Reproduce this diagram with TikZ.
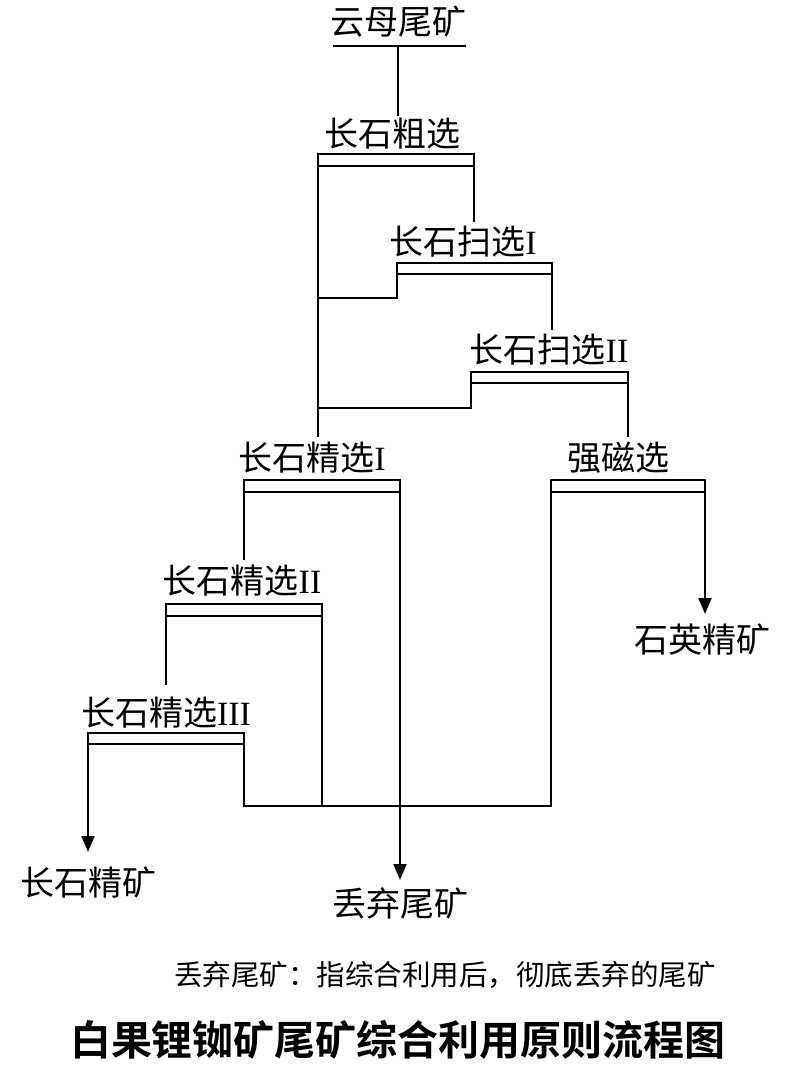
\documentclass[tikz,border=0pt]{standalone}
\usepackage{fontspec}
\usetikzlibrary{arrows.meta}
\newfontfamily\cjk{Noto Sans CJK SC}[BoldFont={Noto Sans CJK SC Bold}]
\newfontfamily\rom{Liberation Serif}
\begin{document}
\begin{tikzpicture}[x=1pt,y=-1pt,line width=2pt,
  lbl/.style={font=\cjk\fontsize{34}{34}\selectfont,inner sep=0pt},
  bar/.style={draw,line width=2pt},
  arr/.style={-{Triangle[length=16pt,width=13pt]}}]
\useasboundingbox (0,0) rectangle (799,1069);
\newcommand\R[1]{{\rom #1}}
% labels
\node[lbl] (src) at (398,22) {云母尾矿};
\node[lbl] (t0) at (392,134) {长石粗选};
\node[lbl] (t1) at (463,242) {长石扫选\R{I}};
\node[lbl] (t2) at (549,350) {长石扫选\R{II}};
\node[lbl] (t3) at (312,458) {长石精选\R{I}};
\node[lbl] (t4) at (618,458) {强磁选};
\node[lbl] (t5) at (242,581) {长石精选\R{II}};
\node[lbl] (t6) at (166,713) {长石精选\R{III}};
\node[lbl] (p1) at (702,640) {石英精矿};
\node[lbl] (p2) at (88,882) {长石精矿};
\node[lbl] (p3) at (400,903) {丢弃尾矿};
\node[font=\cjk\fontsize{28.5}{28.5}\selectfont,inner sep=0pt] (note) at (445,975) {丢弃尾矿：指综合利用后，彻底丢弃的尾矿};
\node[font=\cjk\bfseries\fontsize{41}{41}\selectfont,inner sep=0pt] (title) at (398,1040) {白果锂铷矿尾矿综合利用原则流程图};
% bars
\draw (333,46) -- (466,46);
\draw[bar] (318,154) rectangle (474,166);
\draw[bar] (397,263) rectangle (552,274);
\draw[bar] (471,372) rectangle (628,383);
\draw[bar] (244,480) rectangle (400,492);
\draw[bar] (551,480) rectangle (705,492);
\draw[bar] (166,604) rectangle (322,616);
\draw[bar] (88,733) rectangle (244,744);
% connectors
\draw (398,46) -- (398,116);
\draw (474,166) -- (474,222);
\draw (318,166) -- (318,437);
\draw (397,274) -- (397,298) -- (318,298);
\draw (552,274) -- (552,330);
\draw (471,383) -- (471,408) -- (318,408);
\draw (628,383) -- (628,437);
\draw (244,492) -- (244,560);
\draw[arr] (400,492) -- (400,880);
\draw[arr] (705,492) -- (705,614);
\draw (551,492) -- (551,806) -- (244,806) -- (244,744);
\draw (166,616) -- (166,685);
\draw (322,616) -- (322,806);
\draw[arr] (88,744) -- (88,852);
\end{tikzpicture}
\end{document}
